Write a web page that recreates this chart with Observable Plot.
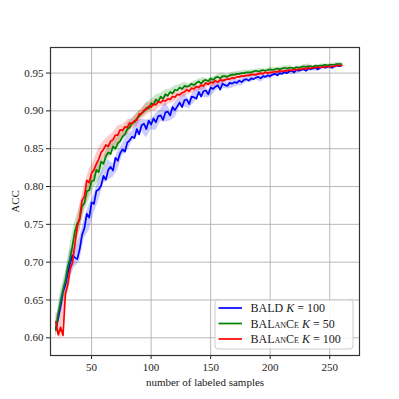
<!DOCTYPE html>
<html><head><meta charset="utf-8">
<script src="https://cdn.jsdelivr.net/npm/d3@7"></script>
<script src="https://cdn.jsdelivr.net/npm/@observablehq/plot@0.6"></script>
<style>body{margin:0;background:#fff;} #chart svg{display:block;}</style>
</head><body><div id="chart"></div>
<script>
const xStart = 20, xStep = 2, bandStep = 4;
const seriesNames = ["BALD K = 100", "BALanCe K = 50", "BALanCe K = 100"];
const seriesColors = ["#0000ff", "#008000", "#ff0000"];
const xTicks = [50, 100, 150, 200, 250];
const yTicks = [0.60, 0.65, 0.70, 0.75, 0.80, 0.85, 0.90, 0.95];

const bald100 = [.612,.626,.642,.661,.670,.686,.699,.709,.706,.704,
  .717,.736,.745,.764,.759,.779,.777,.794,.796,.801,.814,.809,.822,.826,.821,.838,.834,.844,.849,.846,.858,.861,.866,.864,.876,.869,.881,.883,.876,.887,.882,.890,.885,.893,.894,.888,.898,.899,.894,.905,.901,.906,.911,.905,.914,.915,.909,.919,.918,.916,.925,.919,.926,.927,.922,.931,.929,.932,.934,.928,.936,
  .934,.933,.937,.936,.938,.937,.940,.938,.941,.942,.940,.943,.942,.944,.945,.943,.946,.945,.947,.946,.948,.949,.947,.950,.949,.951,.950,.952,.953,.951,.954,.953,.954,.955,.953,.956,.955,.956,.957,.955,.957,.958,.957,.958,.959,.957,.959,.960,.959,.960];
const balance50 = [.610,.632,.648,.663,.675,.694,.705,.722,.741,.751,
  .757,.774,.778,.794,.795,.807,.808,.822,.819,.833,.830,.840,.845,.843,.853,.850,.857,.860,.866,.869,.876,.878,.884,.885,.890,.893,.897,.899,.904,.903,.910,.908,.915,.912,.919,.916,.922,.920,.925,.923,.928,.927,.931,.929,.933,.932,.933,.936,.934,.937,.939,.936,.940,.941,.939,.943,.941,.944,.945,.943,.946,
  .946,.945,.947,.948,.948,.949,.949,.950,.950,.951,.951,.951,.952,.953,.952,.953,.954,.953,.954,.955,.954,.955,.956,.955,.956,.957,.956,.957,.957,.956,.958,.957,.958,.959,.958,.959,.959,.958,.960,.959,.960,.960,.961,.960,.961,.961,.961,.962,.962,.962];
const balance100 = [.621,.604,.614,.603,.658,.670,.691,.699,.724,.747,
  .758,.782,.787,.808,.805,.818,.822,.830,.836,.845,.849,.855,.853,.860,.862,.868,.868,.875,.874,.879,.878,.884,.883,.887,.888,.896,.896,.901,.902,.906,.905,.909,.908,.912,.911,.914,.913,.916,.915,.919,.918,.922,.921,.924,.925,.928,.926,.930,.929,.932,.931,.934,.933,.937,.935,.938,.937,.940,.938,.941,.940,
  .941,.942,.942,.944,.943,.945,.945,.946,.946,.947,.947,.948,.948,.948,.949,.950,.949,.951,.950,.951,.951,.952,.951,.953,.952,.953,.953,.954,.953,.955,.954,.955,.955,.956,.955,.957,.956,.957,.957,.958,.957,.958,.958,.959,.958,.959,.959,.960,.960,.960];

const baldSpread = [.010,.014,.012,.018,.012,.016,.013,.017,.012,.015,.010,.013,.009,.012,.008,.011,.007,.010,.008,.012,.007,.011,.008,.013,.007,.010,.006,.009,.006,.008,.005,.008,.005,.007,.005,.006,.004,.006,.004,.005,.004,.005,.003,.005,.003,.004,.003,.004,.003,.004,.003,.003,.003,.004,.003,.003,.002,.003,.002,.003,.002];
const balance50Spread = [.010,.015,.012,.018,.013,.015,.011,.013,.010,.012,.008,.010,.007,.009,.006,.008,.006,.007,.005,.007,.005,.006,.004,.006,.004,.005,.004,.005,.003,.005,.003,.004,.003,.004,.003,.004,.003,.003,.003,.003,.003,.003,.002,.003,.002,.003,.002,.003,.002,.003,.002,.002,.002,.003,.002,.002,.002,.002,.002,.002,.002];
const balance100Spread = [.012,.016,.014,.018,.014,.018,.015,.017,.013,.015,.011,.013,.009,.012,.008,.010,.007,.009,.007,.008,.006,.008,.005,.007,.005,.006,.004,.006,.004,.005,.004,.005,.003,.005,.003,.004,.003,.004,.003,.003,.003,.003,.002,.003,.002,.003,.002,.003,.002,.003,.002,.002,.002,.003,.002,.002,.002,.002,.002,.002,.002];

const allMeans = [bald100, balance50, balance100];
const allSpreads = [baldSpread, balance50Spread, balance100Spread];

const lines = [], bands = [];
allMeans.forEach((vals, s) => {
  vals.forEach((v, i) => lines.push({series: s, x: xStart + xStep * i, y: v}));
  const ratio = bandStep / xStep;
  allSpreads[s].forEach((sp, i) => {
    const m = vals[i * ratio];
    if (m !== undefined) bands.push({series: s, x: xStart + bandStep * i, lo: m - sp, hi: m + sp});
  });
});

const font = "'Liberation Serif', 'DejaVu Serif', serif";
const marks = [
  Plot.gridX(xTicks, {stroke: "#b0b0b0", strokeOpacity: 1, strokeWidth: 0.9}),
  Plot.gridY(yTicks, {stroke: "#b0b0b0", strokeOpacity: 1, strokeWidth: 0.9}),
];
[0, 1, 2].forEach(s => {
  marks.push(Plot.areaY(bands.filter(d => d.series === s), {x: "x", y1: "lo", y2: "hi", fill: seriesColors[s], fillOpacity: 0.2}));
});
[0, 1, 2].forEach(s => {
  marks.push(Plot.line(lines.filter(d => d.series === s), {x: "x", y: "y", stroke: seriesColors[s], strokeWidth: 1.7}));
});
marks.push(
  Plot.axisX({ticks: xTicks, tickSize: 4, tickFormat: d => String(d), label: "number of labeled samples", labelAnchor: "center", labelArrow: "none", labelOffset: 30, tickPadding: 4}),
  Plot.axisY({ticks: yTicks, tickSize: 4, tickFormat: d => d.toFixed(2), label: "ACC", labelAnchor: "center", labelArrow: "none", labelOffset: 39, tickPadding: 3}),
  Plot.frame({stroke: "#333", strokeWidth: 1.2})
);

const chart = Plot.plot({
  width: 399, height: 399,
  marginLeft: 50, marginTop: 47, marginRight: 40, marginBottom: 44,
  x: {domain: [15.5, 275]},
  y: {domain: [0.5766, 0.9838]},
  style: {fontFamily: font, fontSize: "11px", color: "#222", background: "#fff"},
  marks
});
document.getElementById("chart").appendChild(chart);

// legend
const svg = d3.select(chart);
const lg = svg.append("g").attr("font-family", font).attr("font-size", 12).attr("fill", "#222").attr("text-anchor", "start");
lg.append("rect").attr("x", 215).attr("y", 300).attr("width", 138).attr("height", 49)
  .attr("rx", 3).attr("fill", "#fff").attr("fill-opacity", 0.85).attr("stroke", "#ccc").attr("stroke-width", 1);
const rowY = [308, 323.5, 339];
seriesNames.forEach((name, s) => {
  lg.append("line").attr("x1", 218.5).attr("x2", 242).attr("y1", rowY[s]).attr("y2", rowY[s])
    .attr("stroke", seriesColors[s]).attr("stroke-width", 1.7);
  const parts = name.split(" K ");
  const t = lg.append("text").attr("x", 250.5).attr("y", rowY[s]).attr("dy", "0.35em").attr("text-anchor", "start");
  t.append("tspan").style("font-variant", "small-caps").text(parts[0] + " ");
  t.append("tspan").attr("font-style", "italic").text("K");
  t.append("tspan").text(" " + parts[1].replace("=", "= ").replace("  ", " "));
});
</script></body></html>
